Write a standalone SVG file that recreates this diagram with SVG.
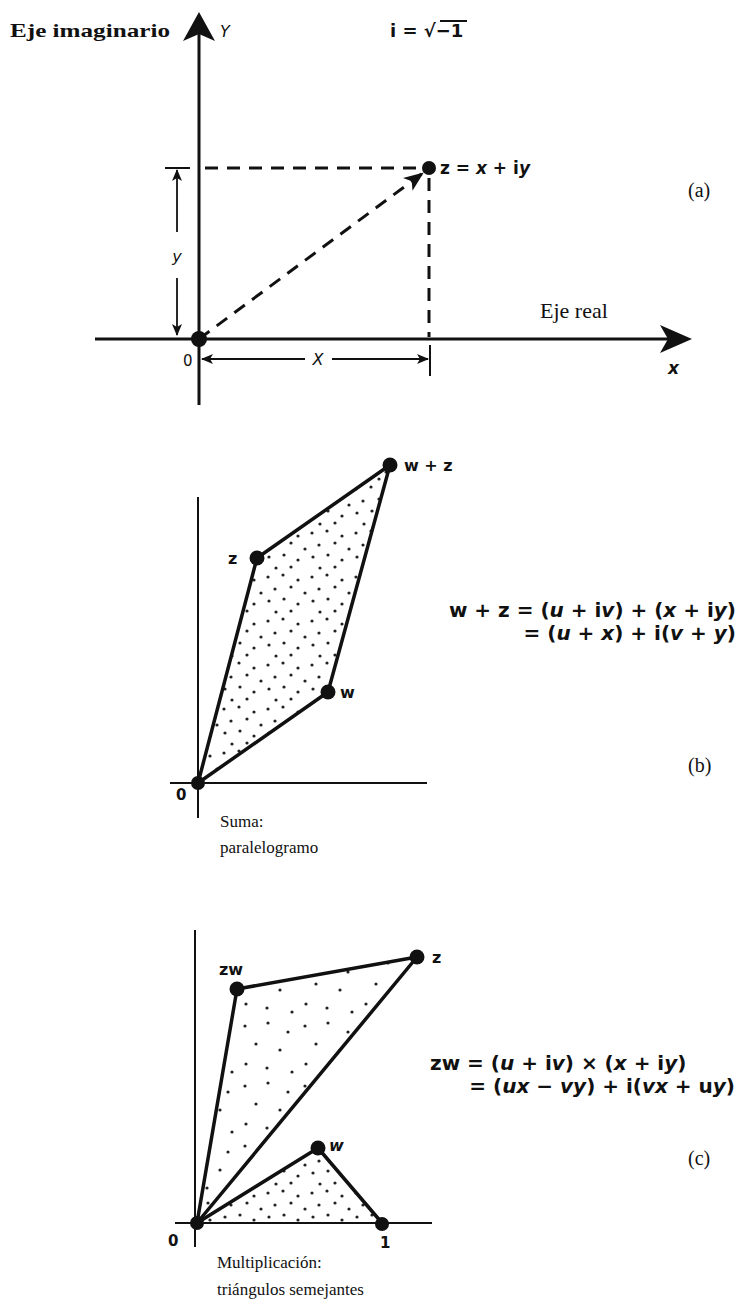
<svg xmlns="http://www.w3.org/2000/svg" width="740" height="1310" viewBox="0 0 740 1310">
<style>
.ax{stroke:#111;stroke-width:3;fill:none;stroke-linecap:butt}
.ax2{stroke:#111;stroke-width:2;fill:none}
.edge{stroke:#111;stroke-width:3.5;fill:none;stroke-linejoin:round}
.dash{stroke:#111;stroke-width:3;fill:none;stroke-dasharray:13 9}
.thin{stroke:#111;stroke-width:1.8;fill:none}
.dot{fill:#111}
.serif{font-family:"Liberation Serif","Times New Roman",serif;fill:#111}
.sans{font-family:"DejaVu Sans","Noto Sans","Liberation Sans",sans-serif;fill:#111}
.b{font-weight:bold}
.it{font-style:italic}
</style>
<defs>
<pattern id="stip" patternUnits="userSpaceOnUse" width="44" height="44">
<g fill="#222">
<circle cx="4" cy="5" r="1.6"/><circle cx="19" cy="3" r="1.6"/><circle cx="34" cy="8" r="1.6"/>
<circle cx="11" cy="17" r="1.6"/><circle cx="27" cy="15" r="1.6"/><circle cx="41" cy="21" r="1.6"/>
<circle cx="5" cy="29" r="1.6"/><circle cx="20" cy="27" r="1.6"/><circle cx="34" cy="32" r="1.6"/>
<circle cx="12" cy="40" r="1.6"/><circle cx="27" cy="39" r="1.6"/>
</g>
</pattern>
<pattern id="stip2" patternUnits="userSpaceOnUse" width="60" height="60">
<g fill="#222">
<circle cx="5" cy="6" r="1.6"/><circle cx="28" cy="3" r="1.6"/><circle cx="48" cy="12" r="1.6"/>
<circle cx="16" cy="24" r="1.6"/><circle cx="40" cy="30" r="1.6"/><circle cx="6" cy="44" r="1.6"/>
<circle cx="27" cy="48" r="1.6"/><circle cx="52" cy="52" r="1.6"/>
</g>
</pattern>
<marker id="ah" viewBox="0 0 12 10" refX="11" refY="5" markerWidth="12" markerHeight="10" markerUnits="userSpaceOnUse" orient="auto-start-reverse">
<path d="M0,0 L12,5 L0,10 L3,5 Z" fill="#111"/>
</marker>
<marker id="ahBig" viewBox="0 0 20 16" refX="19" refY="8" markerWidth="20" markerHeight="16" markerUnits="userSpaceOnUse" orient="auto">
<path d="M0,0 L20,8 L0,16 L5,8 Z" fill="#111"/>
</marker>
</defs>

<!-- ===== (a) ===== -->
<g id="a-axes">
<line class="ax" x1="199" y1="30" x2="199" y2="405"/>
<polygon points="199,12 183,41 199,34 215,41" fill="#111"/>
<line class="ax" x1="95" y1="339" x2="672" y2="339"/>
<polygon points="692,339 660,325 668,339 660,353" fill="#111"/>
</g>
<g id="a-labels">
<text class="serif b" x="10" y="37" font-size="19" textLength="160" lengthAdjust="spacingAndGlyphs">Eje imaginario</text>
<text class="sans it" x="220" y="37" font-size="16">Y</text>
<text class="sans b" x="390" y="37" font-size="18">i = √−1</text>
<line class="ax2" x1="440" y1="21" x2="467" y2="21"/>
<text class="serif" x="540" y="318" font-size="22">Eje real</text>
<text class="sans b it" x="668" y="374" font-size="17">x</text>
<text class="sans" x="183" y="366" font-size="15">0</text>
<text class="serif" x="688" y="197" font-size="20">(a)</text>
</g>
<g id="a-origin"><circle class="dot" cx="199" cy="339" r="8"/></g>
<g id="a-z">
<circle class="dot" cx="429" cy="168" r="7"/>
<text class="sans b" x="440" y="174" font-size="17">z = <tspan class="it">x</tspan> + i<tspan class="it">y</tspan></text>
</g>
<g id="a-connectors">
<line class="dash" x1="205" y1="168" x2="420" y2="168"/>
<line class="ax2" x1="165" y1="168" x2="190" y2="168"/>
<line class="dash" x1="429" y1="178" x2="429" y2="337"/>
<line class="dash" x1="199" y1="339" x2="423" y2="173" marker-end="url(#ahBig)"/>
<!-- y dimension -->
<line class="thin" x1="177" y1="170" x2="177" y2="232" marker-start="url(#ah)"/>
<line class="thin" x1="177" y1="278" x2="177" y2="335" marker-end="url(#ah)"/>
<text class="sans it" x="177" y="262" font-size="16" text-anchor="middle">y</text>
<!-- x dimension -->
<line class="ax2" x1="199" y1="343" x2="199" y2="405"/>
<line class="thin" x1="202" y1="359" x2="305" y2="359" marker-start="url(#ah)"/>
<line class="thin" x1="332" y1="359" x2="428" y2="359" marker-end="url(#ah)"/>
<text class="sans it" x="318" y="365" font-size="16" text-anchor="middle">X</text>
<line class="ax2" x1="430" y1="345" x2="430" y2="376"/>
</g>

<!-- ===== (b) ===== -->
<g id="b-axes">
<line class="ax2" x1="198" y1="497" x2="198" y2="818"/>
<line class="ax2" x1="170" y1="783" x2="427" y2="783"/>
</g>
<g id="b-connectors">
<polygon points="198,783 257,558 390,465 328,692" fill="url(#stip)" stroke="none"/>
<polygon class="edge" points="198,783 257,558 390,465 328,692"/>
</g>
<g id="b-origin"><circle class="dot" cx="198" cy="783" r="7"/><text class="sans b" x="176" y="800" font-size="15">0</text></g>
<g id="b-z"><circle class="dot" cx="257" cy="558" r="7.5"/><text class="sans b" x="228" y="564" font-size="16">z</text></g>
<g id="b-wz"><circle class="dot" cx="390" cy="465" r="7.5"/><text class="sans b" x="404" y="471" font-size="16">w + z</text></g>
<g id="b-w"><circle class="dot" cx="328" cy="692" r="7.5"/><text class="sans b" x="340" y="698" font-size="16">w</text></g>
<g id="b-caption">
<text class="serif" x="220" y="827" font-size="17">Suma:</text>
<text class="serif" x="220" y="853" font-size="17">paralelogramo</text>
</g>
<g id="b-formula">
<text class="sans b" x="736" y="617" font-size="20" text-anchor="end">w + z = (<tspan class="it">u</tspan> + i<tspan class="it">v</tspan>) + (<tspan class="it">x</tspan> + i<tspan class="it">y</tspan>)</text>
<text class="sans b" x="736" y="640" font-size="20" text-anchor="end">= (<tspan class="it">u</tspan> + <tspan class="it">x</tspan>) + i(<tspan class="it">v</tspan> + <tspan class="it">y</tspan>)</text>
<text class="serif" x="688" y="772" font-size="20">(b)</text>
</g>

<!-- ===== (c) ===== -->
<g id="c-axes">
<line class="ax2" x1="195" y1="930" x2="195" y2="1247"/>
<line class="ax2" x1="175" y1="1223" x2="432" y2="1223"/>
</g>
<g id="c-connectors">
<polygon points="197,1223 237,989 417,957" fill="url(#stip2)" stroke="none"/>
<polygon points="197,1223 318,1148 382,1223" fill="url(#stip)" stroke="none"/>
<polygon class="edge" points="197,1223 237,989 417,957"/>
<polyline class="edge" points="197,1223 318,1148 382,1223"/>
</g>
<g id="c-origin"><circle class="dot" cx="197" cy="1223" r="7"/><text class="sans b" x="168" y="1246" font-size="15">0</text></g>
<g id="c-zw"><circle class="dot" cx="237" cy="989" r="7.5"/><text class="sans b" x="219" y="975" font-size="16">zw</text></g>
<g id="c-z"><circle class="dot" cx="417" cy="957" r="7.5"/><text class="sans b" x="432" y="963" font-size="16">z</text></g>
<g id="c-w"><circle class="dot" cx="318" cy="1148" r="7.5"/><text class="sans b it" x="329" y="1151" font-size="16">w</text></g>
<g id="c-one"><circle class="dot" cx="382" cy="1224" r="7"/><text class="sans b" x="380" y="1248" font-size="15">1</text></g>
<g id="c-caption">
<text class="serif" x="217" y="1268" font-size="17">Multiplicación:</text>
<text class="serif" x="217" y="1295" font-size="17">triángulos semejantes</text>
</g>
<g id="c-formula">
<text class="sans b" x="430" y="1070" font-size="20">zw = (<tspan class="it">u</tspan> + i<tspan class="it">v</tspan>) × (<tspan class="it">x</tspan> + i<tspan class="it">y</tspan>)</text>
<text class="sans b" x="735" y="1093" font-size="20" text-anchor="end">= (<tspan class="it">ux</tspan> − <tspan class="it">vy</tspan>) + i(<tspan class="it">vx</tspan> + u<tspan class="it">y</tspan>)</text>
<text class="serif" x="688" y="1165" font-size="20">(c)</text>
</g>
</svg>
